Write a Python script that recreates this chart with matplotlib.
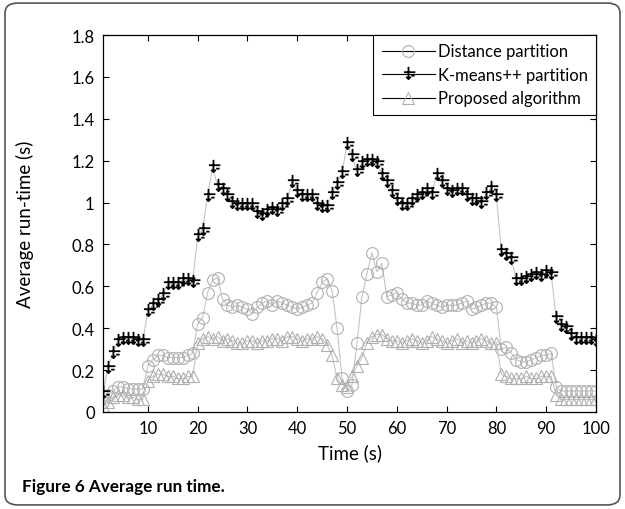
import matplotlib
matplotlib.use('Agg')
import matplotlib.pyplot as plt
from matplotlib.path import Path
from matplotlib.lines import Line2D
from matplotlib.patches import FancyBboxPatch
from matplotlib.ticker import FormatStrFormatter

plt.rcParams['font.family'] = ['Lato', 'DejaVu Sans']

# time steps 1..100
time = list(range(1, 101))

distance = [0.05, 0.08, 0.10, 0.12, 0.12, 0.11, 0.11, 0.11, 0.11, 0.22,
            0.25, 0.27, 0.27, 0.26, 0.26, 0.26, 0.26, 0.27, 0.28, 0.42,
            0.45, 0.57, 0.63, 0.64, 0.54, 0.51, 0.50, 0.51, 0.50, 0.49,
            0.47, 0.50, 0.52, 0.53, 0.51, 0.53, 0.52, 0.51, 0.50, 0.49,
            0.50, 0.51, 0.52, 0.57, 0.62, 0.635, 0.58, 0.40, 0.16, 0.10,
            0.13, 0.33, 0.55, 0.66, 0.76, 0.67, 0.71, 0.55, 0.56, 0.57,
            0.54, 0.52, 0.52, 0.51, 0.51, 0.53, 0.52, 0.51, 0.50, 0.51,
            0.51, 0.51, 0.52, 0.53, 0.49, 0.50, 0.51, 0.52, 0.52, 0.50,
            0.30, 0.31, 0.28, 0.25, 0.24, 0.24, 0.25, 0.26, 0.27, 0.27,
            0.28, 0.12, 0.10, 0.10, 0.10, 0.10, 0.10, 0.10, 0.10, 0.10]

kmeans = [0.09, 0.21, 0.28, 0.34, 0.35, 0.35, 0.35, 0.34, 0.34, 0.48,
          0.51, 0.53, 0.56, 0.61, 0.61, 0.61, 0.63, 0.63, 0.62, 0.84,
          0.87, 1.03, 1.17, 1.08, 1.06, 1.03, 1.00, 0.99, 0.99, 0.99,
          0.99, 0.95, 0.94, 0.96, 0.97, 0.96, 0.99, 1.01, 1.10, 1.05,
          1.03, 1.03, 1.03, 0.99, 0.98, 0.98, 1.04, 1.09, 1.14, 1.28,
          1.22, 1.15, 1.19, 1.20, 1.20, 1.19, 1.13, 1.10, 1.05, 1.01,
          0.99, 0.99, 1.01, 1.03, 1.04, 1.06, 1.04, 1.13, 1.10, 1.06,
          1.05, 1.06, 1.06, 1.03, 1.01, 1.01, 1.00, 1.04, 1.07, 1.03,
          0.77, 0.75, 0.73, 0.63, 0.63, 0.64, 0.65, 0.66, 0.65, 0.67,
          0.66, 0.45, 0.41, 0.40, 0.37, 0.35, 0.35, 0.35, 0.35, 0.34]

proposed = [0.03, 0.05, 0.07, 0.08, 0.08, 0.07, 0.07, 0.06, 0.06, 0.15,
            0.17, 0.18, 0.18, 0.17, 0.17, 0.16, 0.16, 0.17, 0.17, 0.33,
            0.35, 0.36, 0.35, 0.36, 0.34, 0.35, 0.34, 0.33, 0.33, 0.34,
            0.34, 0.33, 0.34, 0.34, 0.35, 0.35, 0.34, 0.36, 0.36, 0.35,
            0.34, 0.35, 0.35, 0.36, 0.35, 0.32, 0.27, 0.16, 0.13, 0.12,
            0.17, 0.22, 0.26, 0.33, 0.36, 0.37, 0.37, 0.35, 0.34, 0.34,
            0.33, 0.34, 0.35, 0.34, 0.33, 0.34, 0.36, 0.35, 0.34, 0.33,
            0.34, 0.35, 0.33, 0.34, 0.33, 0.34, 0.35, 0.34, 0.33, 0.33,
            0.18, 0.17, 0.16, 0.16, 0.16, 0.17, 0.16, 0.16, 0.17, 0.17,
            0.17, 0.08, 0.06, 0.06, 0.06, 0.06, 0.06, 0.06, 0.06, 0.06]

labels = ['Distance partition', 'K-means++ partition', 'Proposed algorithm']

# cross with a small arrow head, like the original marker
M, L = Path.MOVETO, Path.LINETO
kmark = Path([(0, 1), (0, -0.6), (-0.6, 0.3), (0.9, 0.3),
              (-0.3, -0.3), (0, -0.6), (0.3, -0.3), (0.35, -0.15), (0.8, -0.15)],
             [M, L, M, L, M, L, L, M, L])

fig = plt.figure(figsize=(6.25, 5.1), dpi=100)
ax = fig.add_axes([0.1648, 0.1902, 0.7888, 0.7392])

grey_line = '#c4c4c4'
grey_mark = '#b0b0b0'
ax.plot(time, distance, color=grey_line, lw=0.8, marker='o', ms=8.5,
        mfc='none', mec=grey_mark, mew=0.8)
ax.plot(time, kmeans, color=grey_line, lw=0.8, marker=kmark, ms=11,
        mfc='none', mec='black', mew=1.3)
ax.plot(time, proposed, color=grey_line, lw=0.8, marker='^', ms=8.5,
        mfc='none', mec=grey_mark, mew=0.8)

ax.set_xlim(1, 100)
ax.set_ylim(0, 1.8)
ax.set_xticks(range(10, 101, 10))
ax.set_yticks([i * 0.2 for i in range(10)])
ax.yaxis.set_major_formatter(FormatStrFormatter('%g'))
ax.tick_params(direction='in', top=True, right=True, length=4, width=0.8,
               labelsize=12, colors='black', pad=6)
for s in ax.spines.values():
    s.set_linewidth(0.9)

ax.set_xlabel('Time (s)', fontsize=13.5, labelpad=5)
ax.set_ylabel('Average run-time (s)', fontsize=13.5)
ax.yaxis.set_label_coords(-0.14, 0.5)

handles = [
    Line2D([], [], color='black', lw=0.8, marker='o', ms=8.5, mfc='none', mec=grey_mark, mew=0.8),
    Line2D([], [], color='black', lw=0.8, marker=kmark, ms=11, mfc='none', mec='black', mew=1.3),
    Line2D([], [], color='black', lw=0.8, marker='^', ms=8.5, mfc='none', mec=grey_mark, mew=0.8),
]
leg = ax.legend(handles, labels, loc='upper right', borderaxespad=0,
                fontsize=12, handlelength=3.2, handletextpad=0.15,
                fancybox=False, framealpha=1, edgecolor='black',
                borderpad=0.5, labelspacing=0.45)
leg.get_frame().set_linewidth(0.8)

# rounded frame round the figure and the caption
frame = FancyBboxPatch((0.008, 0.008), 0.984, 0.984, transform=fig.transFigure,
                       boxstyle='round,pad=0,rounding_size=0.02',
                       fc='none', ec='#555555', lw=1.2)
fig.patches.append(frame)
fig.text(0.035, 0.045, 'Figure 6 Average run time.', fontsize=12.3,
         fontweight='bold', ha='left', va='center')

fig.savefig('out.png', dpi=100)
